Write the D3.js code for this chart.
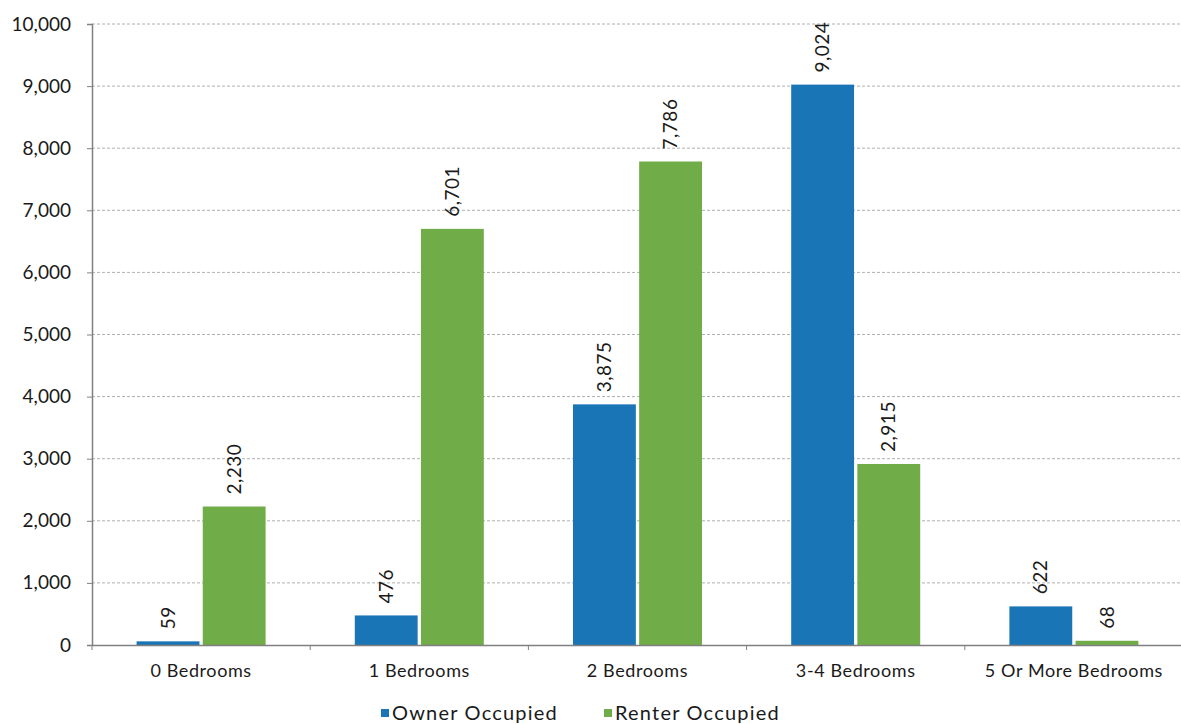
<!DOCTYPE html>
<html>
<head>
<meta charset="utf-8">
<script src="https://cdn.jsdelivr.net/npm/d3@7"></script>
<style>
body { margin: 0; background: #fff; }
svg text { font-family: "Lato", "DejaVu Sans", sans-serif; fill: #1a1a1a; }
</style>
</head>
<body>
<svg id="chart" width="1181" height="724"></svg>
<script>
const categories = ["0 Bedrooms", "1 Bedrooms", "2 Bedrooms", "3-4 Bedrooms", "5 Or More Bedrooms"];
const seriesNames = ["Owner Occupied", "Renter Occupied"];
const ownerValues = [59, 476, 3875, 9024, 622];
const renterValues = [2230, 6701, 7786, 2915, 68];
const yTicks = [0, 1000, 2000, 3000, 4000, 5000, 6000, 7000, 8000, 9000, 10000];
const colors = ["#1a75b6", "#70ac47"];

const svg = d3.select("#chart");
const margin = { left: 92, right: -2, top: 24, bottom: 79 };
const W = 1181, H = 724;
const x0 = margin.left, x1 = W - margin.right;
const yTop = margin.top, yBot = H - margin.bottom;
const groupW = 129;

const x = d3.scaleBand().domain(categories).range([x0, x1]).paddingInner(0).paddingOuter(0);
const inner = d3.scaleBand().domain(seriesNames).range([0, groupW]).paddingInner(0.05);
const y = d3.scaleLinear().domain([0, 10000]).range([yBot, yTop]);

// gridlines
svg.append("g").selectAll("line").data(yTicks.filter(d => d > 0)).join("line")
  .attr("x1", x0).attr("x2", x1)
  .attr("y1", d => y(d)).attr("y2", d => y(d))
  .attr("stroke", "#b0b0b0").attr("stroke-width", 1).attr("stroke-dasharray", "3,2");

const data = categories.map((c, i) => ({ cat: c, vals: [ownerValues[i], renterValues[i]] }));
const groupOffset = (x.bandwidth() - groupW) / 2;

const g = svg.append("g").selectAll("g").data(data).join("g")
  .attr("transform", d => `translate(${x(d.cat) + groupOffset},0)`);

g.selectAll("rect").data(d => d.vals.map((v, j) => ({ v, s: seriesNames[j], j }))).join("rect")
  .attr("x", d => inner(d.s)).attr("width", inner.bandwidth())
  .attr("y", d => y(d.v)).attr("height", d => yBot - y(d.v))
  .attr("fill", d => colors[d.j]);

g.selectAll("text").data(d => d.vals.map((v, j) => ({ v, s: seriesNames[j], j }))).join("text")
  .attr("transform", d => `translate(${inner(d.s) + inner.bandwidth() / 2},${y(d.v) - 12}) rotate(-90)`)
  .attr("dy", "0.35em").attr("text-anchor", "start")
  .style("font-size", "19px").style("letter-spacing", "0.5px")
  .text(d => d3.format(",")(d.v));

// y axis
const yAxis = svg.append("g").attr("transform", `translate(${x0},0)`)
  .call(d3.axisLeft(y).tickValues(yTicks).tickFormat(d3.format(",")).tickSize(5).tickPadding(16));
yAxis.select(".domain").attr("stroke", "#808080").attr("stroke-width", 1.5);
yAxis.selectAll(".tick line").attr("stroke", "#808080");
yAxis.selectAll(".tick text").style("font-size", "19px").attr("fill", "#1a1a1a");

// x axis
const xAxis = svg.append("g").attr("transform", `translate(0,${yBot})`)
  .call(d3.axisBottom(x).tickSize(0).tickPadding(19));
xAxis.select(".domain").attr("stroke", "#808080").attr("stroke-width", 1.5);
xAxis.selectAll(".tick text").style("font-size", "18px").style("letter-spacing", "0.6px").attr("fill", "#1a1a1a");
// category separator ticks
svg.append("g").selectAll("line").data(categories).join("line")
  .attr("x1", d => x(d)).attr("x2", d => x(d))
  .attr("y1", yBot).attr("y2", yBot + 5)
  .attr("stroke", "#808080");

// legend
const legendItems = [{ name: seriesNames[0], x: 381 }, { name: seriesNames[1], x: 604 }];
const lg = svg.append("g").selectAll("g").data(legendItems).join("g")
  .attr("transform", d => `translate(${d.x},713)`);
lg.append("rect").attr("x", 0).attr("y", -4).attr("width", 8).attr("height", 8)
  .attr("fill", (d, i) => colors[i]);
lg.append("text").attr("x", 11).attr("y", 0).attr("dy", "0.35em")
  .style("font-size", "20px").style("letter-spacing", "1.2px").text(d => d.name);
</script>
</body>
</html>
